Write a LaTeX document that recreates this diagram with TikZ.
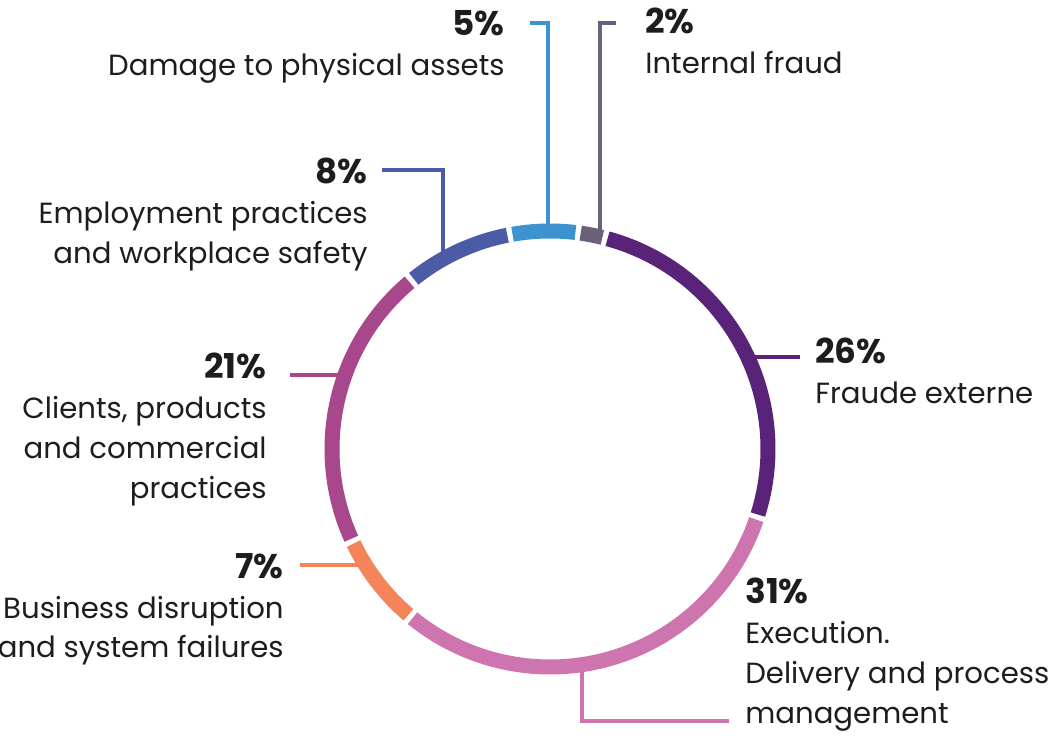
\documentclass[tikz,border=0pt]{standalone}
\usepackage{fontspec}
\setmainfont{Poppins}
\usepackage{tikz}
\usetikzlibrary{positioning}

\definecolor{cDamage}{HTML}{3D93CF}
\definecolor{cInternal}{HTML}{6A6079}
\definecolor{cFraud}{HTML}{59237A}
\definecolor{cExec}{HTML}{CE74AF}
\definecolor{cBusiness}{HTML}{F4845A}
\definecolor{cClients}{HTML}{A8478C}
\definecolor{cEmploy}{HTML}{4B5BA6}
\definecolor{cText}{HTML}{1D1D1B}

\newcommand{\pct}[1]{{\fontsize{19.5}{22.8}\selectfont\bfseries #1}}

\tikzset{
    seg/.style={line width=15*0.02cm},
    leader/.style={line width=3.6*0.02cm},
    lbl/.style={inner sep=0pt, text=cText, font=\fontsize{16.6}{22.6}\selectfont}
}

\begin{document}
\begin{tikzpicture}[x=0.02cm, y=-0.02cm]

    \useasboundingbox (0,0) rectangle (1058,736);

    \coordinate (O) at (550,449);

    \coordinate (pDamage) at (548,231);
    \coordinate (eDamage) at (530,23);
    \coordinate (pInternal) at (600,237);
    \coordinate (eInternal) at (616,23);
    \coordinate (pEmploy) at (443,259);
    \coordinate (eEmploy) at (382,170);
    \coordinate (pFraud) at (748,357);
    \coordinate (eFraud) at (800,357);
    \coordinate (pClients) at (345,375);
    \coordinate (eClients) at (290,375);
    \coordinate (pBusiness) at (365,565);
    \coordinate (eBusiness) at (300,565);
    \coordinate (pExec) at (582,665);
    \coordinate (eExec) at (729,721);

    \draw[leader, cDamage] (pDamage) |- (eDamage);
    \draw[leader, cInternal] (pInternal) |- (eInternal);
    \draw[leader, cEmploy] (pEmploy) |- (eEmploy);
    \draw[leader, cFraud] (pFraud) -- (eFraud);
    \draw[leader, cClients] (pClients) -- (eClients);
    \draw[leader, cBusiness] (pBusiness) -- (eBusiness);
    \draw[leader, cExec] (pExec) |- (eExec);

    \draw[seg, cDamage] (O) ++(-99.9:218) arc[start angle=-99.9, end angle=-83.3, radius=218];
    \draw[seg, cInternal] (O) ++(-81.9:218) arc[start angle=-81.9, end angle=-76.1, radius=218];
    \draw[seg, cFraud] (O) ++(-74.7:218) arc[start angle=-74.7, end angle=17.5, radius=218];
    \draw[seg, cExec] (O) ++(18.9:218) arc[start angle=18.9, end angle=129.1, radius=218];
    \draw[seg, cBusiness] (O) ++(130.5:218) arc[start angle=130.5, end angle=154.3, radius=218];
    \draw[seg, cClients] (O) ++(155.7:218) arc[start angle=155.7, end angle=229.9, radius=218];
    \draw[seg, cEmploy] (O) ++(231.3:218) arc[start angle=231.3, end angle=258.7, radius=218];

    \node[lbl, anchor=north east, align=right] (tDamage) at (505,10) {\pct{5\%}\\Damage to physical assets};
    \node[lbl, anchor=north west, align=left] (tInternal) at (645,8) {\pct{2\%}\\Internal fraud};
    \node[lbl, anchor=north east, align=right] (tEmploy) at (368,158) {\pct{8\%}\\Employment practices\\and workplace safety};
    \node[lbl, anchor=north west, align=left] (tFraud) at (815,338) {\pct{26\%}\\Fraude externe};
    \node[lbl, anchor=north east, align=right] (tClients) at (267,353) {\pct{21\%}\\Clients, products\\and commercial\\practices};
    \node[lbl, anchor=north east, align=right] (tBusiness) at (284,553) {\pct{7\%}\\Business disruption\\and system failures};
    \node[lbl, anchor=north west, align=left] (tExec) at (745,578) {\pct{31\%}\\Execution.\\Delivery and process\\management};

\end{tikzpicture}
\end{document}
